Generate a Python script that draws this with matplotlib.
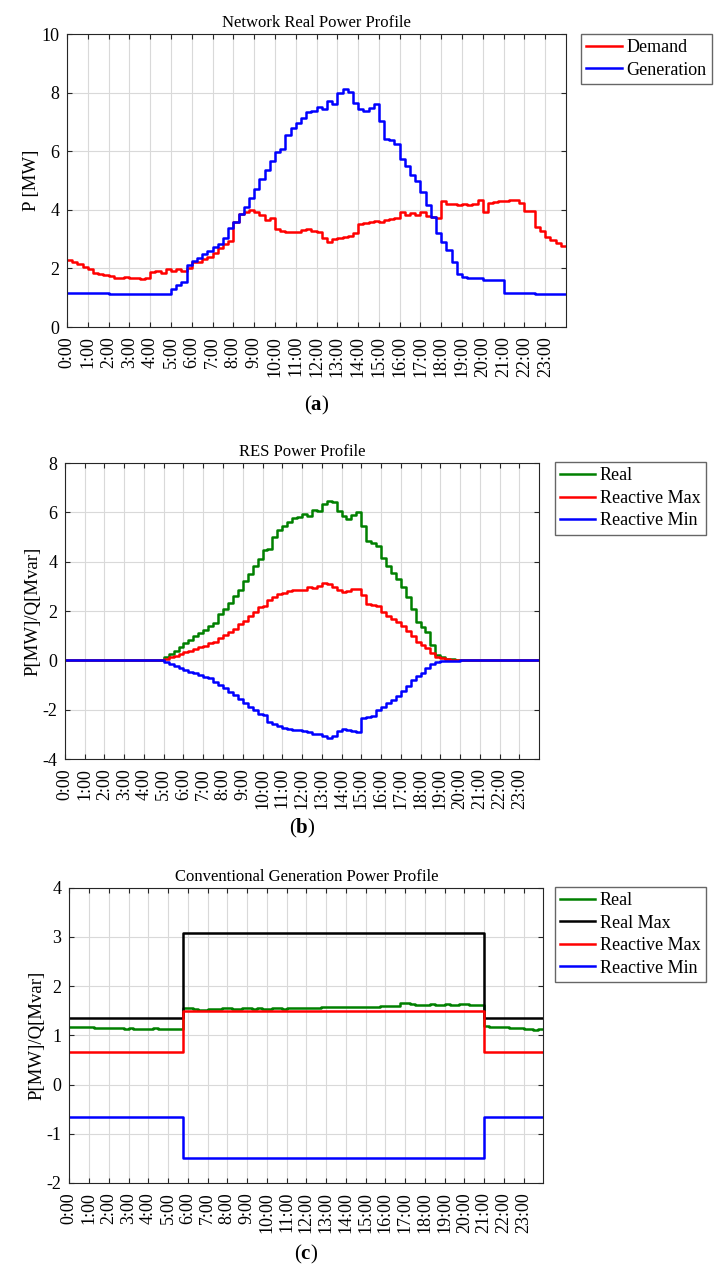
import numpy as np
import matplotlib
matplotlib.use('Agg')
import matplotlib.pyplot as plt

# ===== data, 15-minute steps over one day (96 values) =====
hours = np.arange(97) / 4.0
tick_hours = np.arange(24)
tick_labels = ['%d:00' % h for h in tick_hours]

# (a) network real power profile [MW]
demand = [2.29, 2.22, 2.14, 2.06, 1.97, 1.84, 1.81, 1.76,
          1.74, 1.69, 1.69, 1.71, 1.66, 1.68, 1.65, 1.67,
          1.89, 1.91, 1.85, 1.97, 1.92, 1.97, 1.92, 2.00,
          2.21, 2.21, 2.31, 2.38, 2.54, 2.69, 2.83, 2.95,
          3.60, 3.86, 3.94, 3.98, 3.91, 3.82, 3.66, 3.71,
          3.34, 3.28, 3.26, 3.23, 3.26, 3.31, 3.34, 3.29,
          3.23, 3.03, 2.91, 3.00, 3.03, 3.06, 3.12, 3.20,
          3.51, 3.54, 3.58, 3.63, 3.60, 3.66, 3.68, 3.71,
          3.91, 3.82, 3.89, 3.83, 3.91, 3.79, 3.77, 3.71,
          4.31, 4.21, 4.19, 4.15, 4.19, 4.15, 4.20, 4.32,
          3.92, 4.25, 4.26, 4.29, 4.31, 4.34, 4.34, 4.25,
          3.97, 3.97, 3.43, 3.29, 3.09, 2.97, 2.86, 2.78]
generation = [1.17, 1.17, 1.16, 1.16, 1.16, 1.15, 1.15, 1.15,
              1.14, 1.14, 1.14, 1.13, 1.13, 1.13, 1.13, 1.12,
              1.12, 1.12, 1.12, 1.12, 1.29, 1.42, 1.54, 2.11,
              2.25, 2.37, 2.48, 2.61, 2.72, 2.83, 3.03, 3.37,
              3.60, 3.86, 4.09, 4.40, 4.71, 5.06, 5.37, 5.68,
              5.97, 6.09, 6.57, 6.78, 6.97, 7.14, 7.35, 7.38,
              7.52, 7.43, 7.71, 7.63, 7.98, 8.11, 8.02, 7.66,
              7.45, 7.37, 7.49, 7.60, 7.03, 6.42, 6.37, 6.26,
              5.74, 5.49, 5.20, 4.97, 4.61, 4.15, 3.77, 3.20,
              2.91, 2.63, 2.21, 1.81, 1.71, 1.68, 1.66, 1.66,
              1.62, 1.62, 1.62, 1.60, 1.17, 1.17, 1.16, 1.16,
              1.15, 1.15, 1.14, 1.14, 1.13, 1.13, 1.12, 1.12]

# (b) RES power profile
res_real = [0.0] * 20 + [
    0.12, 0.26, 0.39, 0.53, 0.69, 0.82, 0.98, 1.12,
    1.25, 1.40, 1.52, 1.86, 2.10, 2.33, 2.60, 2.87,
    3.22, 3.52, 3.81, 4.12, 4.46, 4.53, 5.02, 5.27,
    5.43, 5.60, 5.78, 5.83,
    5.94, 5.87, 6.11, 6.05, 6.34, 6.48, 6.41, 6.07,
    5.87, 5.74, 5.91, 6.01, 5.43, 4.82, 4.75, 4.62,
    4.15, 3.81, 3.54, 3.31, 2.98, 2.55, 2.10, 1.56,
    1.36, 1.16, 0.62, 0.22, 0.12, 0.07, 0.04, 0.01] + [0.0] * 16
res_qmax = [0.0] * 20 + [
    0.05, 0.12, 0.19, 0.26, 0.32, 0.39, 0.46, 0.53,
    0.59, 0.69, 0.75, 0.89, 1.02, 1.16, 1.29, 1.47,
    1.60, 1.79, 1.97, 2.17, 2.21, 2.46, 2.57, 2.67,
    2.75, 2.80, 2.84, 2.84,
    2.87, 2.98, 2.94, 3.00, 3.14, 3.08, 2.98, 2.84,
    2.77, 2.80, 2.91, 2.91, 2.64, 2.30, 2.26, 2.21,
    1.97, 1.80, 1.66, 1.56, 1.40, 1.20, 1.00, 0.75,
    0.62, 0.48, 0.28, 0.15, 0.08, 0.05, 0.03, 0.01] + [0.0] * 16
res_qmin = [0.0] * 20 + [
    -0.05, -0.15, -0.23, -0.32, -0.39, -0.46, -0.53, -0.59,
    -0.66, -0.73, -0.86, -1.00, -1.13, -1.27, -1.40, -1.58,
    -1.74, -1.90, -2.01, -2.17, -2.21, -2.48, -2.59, -2.68,
    -2.75, -2.79, -2.84, -2.84,
    -2.88, -2.90, -2.98, -3.00, -3.08, -3.15, -3.08, -2.88,
    -2.79, -2.81, -2.88, -2.92, -2.34, -2.30, -2.25, -2.03,
    -1.90, -1.74, -1.60, -1.44, -1.23, -1.04, -0.79, -0.63,
    -0.53, -0.32, -0.15, -0.07, -0.04, -0.03, -0.02, -0.01] + [0.0] * 16

# (c) conventional generation power profile
conv_real = [1.17, 1.16, 1.17, 1.16, 1.16, 1.15, 1.15, 1.15,
             1.14, 1.14, 1.14, 1.13, 1.14, 1.13, 1.13, 1.13,
             1.13, 1.14, 1.13, 1.13, 1.13, 1.12, 1.12, 1.56,
             1.55, 1.53, 1.52, 1.52, 1.53, 1.54, 1.54, 1.55,
             1.55, 1.54, 1.54, 1.55, 1.55, 1.54, 1.55, 1.54,
             1.54, 1.55, 1.55, 1.54, 1.55, 1.55, 1.56, 1.55,
             1.55, 1.56, 1.56, 1.57, 1.57, 1.58, 1.58, 1.57,
             1.58, 1.57, 1.57, 1.58, 1.58, 1.57, 1.58, 1.59,
             1.60, 1.60, 1.60, 1.65, 1.65, 1.64, 1.62, 1.62,
             1.62, 1.63, 1.62, 1.62, 1.63, 1.62, 1.62, 1.63,
             1.64, 1.62, 1.62, 1.61, 1.18, 1.17, 1.17, 1.16,
             1.16, 1.15, 1.14, 1.14, 1.13, 1.12, 1.11, 1.12]
conv_pmax_levels = [1.35, 3.08, 1.35]
conv_qmax_levels = [0.66, 1.50, 0.66]
conv_qmin_levels = [-0.66, -1.49, -0.66]
level_counts = [23, 61, 12]   # 0:00-5:30, 5:45-20:45, 21:00-23:45

conv_pmax = np.repeat(conv_pmax_levels, level_counts)
conv_qmax = np.repeat(conv_qmax_levels, level_counts)
conv_qmin = np.repeat(conv_qmin_levels, level_counts)

GREEN = (0.0, 0.5, 0.0)

plt.rcParams['font.family'] = ['Liberation Serif', 'DejaVu Serif']
plt.rcParams['mathtext.fontset'] = 'custom'
plt.rcParams['mathtext.rm'] = 'Liberation Serif'
plt.rcParams['mathtext.bf'] = 'Liberation Serif:bold'
plt.rcParams['axes.unicode_minus'] = False

fig = plt.figure(figsize=(7.14, 12.72), dpi=100)


def step(ax, values, color, label):
    v = np.asarray(values, dtype=float)
    ax.step(hours, np.append(v, v[-1]), where='post', color=color,
            linewidth=1.8, label=label)


def style(ax, title, ylabel, ylim, yticks, legend_pos):
    ax.set_xlim(0, 24)
    ax.set_ylim(*ylim)
    ax.set_yticks(yticks)
    ax.set_xticks(tick_hours)
    ax.set_xticklabels(tick_labels, rotation=90, fontsize=13)
    ax.tick_params(axis='y', labelsize=13, pad=5.5)
    ax.tick_params(axis='x', pad=6.5)
    ax.tick_params(direction='in', top=True, right=True, length=3.6,
                   color='0.15')
    ax.grid(True, color='0.85', linewidth=0.8)
    ax.set_axisbelow(True)
    for s in ax.spines.values():
        s.set_color('0.15')
    ax.set_title(title, fontsize=12, pad=5)
    ax.set_ylabel(ylabel, fontsize=13.5, labelpad=1)
    leg = ax.legend(loc='upper left', bbox_to_anchor=legend_pos,
                    bbox_transform=fig.transFigure, borderaxespad=0,
                    fancybox=False, framealpha=1, edgecolor='0.4',
                    fontsize=13, handlelength=1.95, handletextpad=0.25,
                    labelspacing=0.3, borderpad=0.3)
    leg.get_frame().set_linewidth(1.0)


# ===== (a)
ax_a = fig.add_axes([0.0938, 0.7429, 0.699, 0.2303])
step(ax_a, demand, 'r', 'Demand')
step(ax_a, generation, 'b', 'Generation')
style(ax_a, 'Network Real Power Profile', 'P [MW]', (0, 10),
      np.arange(0, 11, 2), (0.8137, 0.9733))

# ===== (b)
ax_b = fig.add_axes([0.091, 0.4033, 0.664, 0.2327])
step(ax_b, res_real, GREEN, 'Real')
step(ax_b, res_qmax, 'r', 'Reactive Max')
step(ax_b, res_qmin, 'b', 'Reactive Min')
style(ax_b, 'RES Power Profile', 'P[MW]/Q[Mvar]', (-4, 8),
      np.arange(-4, 9, 2), (0.777, 0.6368))

# ===== (c)
ax_c = fig.add_axes([0.097, 0.0700, 0.664, 0.2322])
step(ax_c, conv_real, GREEN, 'Real')
step(ax_c, conv_pmax, 'k', 'Real Max')
step(ax_c, conv_qmax, 'r', 'Reactive Max')
step(ax_c, conv_qmin, 'b', 'Reactive Min')
style(ax_c, 'Conventional Generation Power Profile', 'P[MW]/Q[Mvar]',
      (-2, 4), np.arange(-2, 5, 1), (0.777, 0.3027))

# ===== panel letters
fig.text(0.443, 0.6816, r'($\mathbf{a}$)', ha='center', va='center', fontsize=15)
fig.text(0.423, 0.349, r'($\mathbf{b}$)', ha='center', va='center', fontsize=15)
fig.text(0.429, 0.014, r'($\mathbf{c}$)', ha='center', va='center', fontsize=15)

fig.savefig('out.png', dpi=100)
plt.close()
